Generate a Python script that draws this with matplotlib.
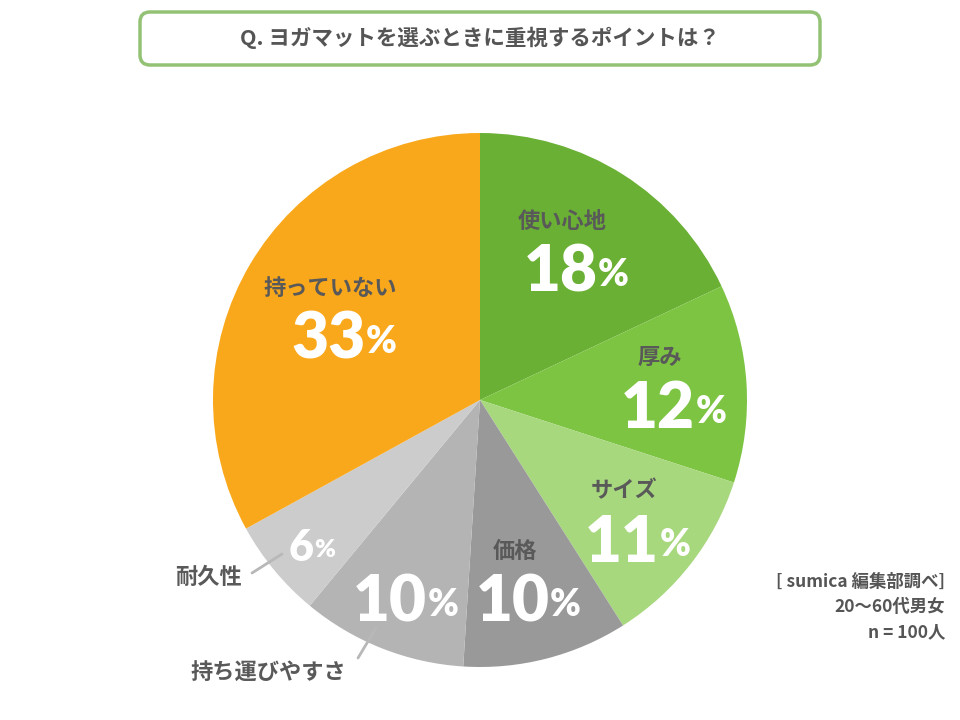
import numpy as np
import matplotlib
matplotlib.use('Agg')
import matplotlib.pyplot as plt
from matplotlib.patches import FancyBboxPatch

plt.rcParams['font.family'] = ['Noto Sans CJK JP', 'DejaVu Sans']

title = 'Q. ヨガマットを選ぶときに重視するポイントは？'
labels = ['使い心地', '厚み', 'サイズ', '価格', '持ち運びやすさ', '耐久性', '持っていない']
values = [18, 12, 11, 10, 10, 6, 33]
note_lines = ['[ sumica 編集部調べ]', '20〜60代男女', 'n = 100人']

colors = ['#6ab034', '#7dc443', '#a8d87e', '#999999', '#b4b4b4', '#cccccc', '#f9a81b']
# radial position of each label block (fraction of radius), and whether name sits outside
label_r = [0.66, 0.72, 0.74, 0.70, 0.77, 0.80, 0.60]
outside = [False, False, False, False, True, True, False]
num_size = [46, 46, 46, 46, 46, 31, 46]

fig = plt.figure(figsize=(9.6, 7.2), dpi=100)
ax = fig.add_axes([0, 0, 1, 1])
cx, cy, R = 480, 320, 267

wedges, _ = ax.pie(values, colors=colors, startangle=90, counterclock=False,
                   center=(cx, cy), radius=R,
                   wedgeprops=dict(linewidth=0))
ax.set_xlim(0, 960)
ax.set_ylim(0, 720)
ax.set_aspect('equal')
ax.axis('off')

total = sum(values)
cum = np.cumsum([0] + values)
for i, (lab, v) in enumerate(zip(labels, values)):
    mid = (cum[i] + v / 2) / total * 2 * np.pi
    x = cx + label_r[i] * R * np.sin(mid)
    y = cy + label_r[i] * R * np.cos(mid)
    if outside[i]:
        ny = y - 12
    else:
        ny = y - 22
        ax.text(x - 12, y + 30, lab, ha='center', va='center', fontsize=16,
                fontweight='bold', color='#595959')
    t = ax.text(x - 14, ny, str(v), ha='center', va='center', fontsize=num_size[i],
                fontweight='heavy', color='white', family=['Lato', 'DejaVu Sans'])
    ax.annotate('%', xy=(1, 0.18), xycoords=t, xytext=(0.5, 0), textcoords='offset points',
                ha='left', va='bottom', fontsize=num_size[i] * 0.58, fontweight='heavy',
                color='white', family=['Lato', 'DejaVu Sans'])

# leader lines for the outside names
ax.plot([282, 252], [166, 147], color='#b8b8b8', lw=2, solid_capstyle='round')
ax.text(242, 143, labels[5], ha='right', va='center', fontsize=16,
        fontweight='bold', color='#595959')
ax.plot([376, 358], [92, 62], color='#b8b8b8', lw=2, solid_capstyle='round')
ax.text(268, 47, labels[4], ha='center', va='center', fontsize=16,
        fontweight='bold', color='#595959')

# title box
box = FancyBboxPatch((140, 655), 680, 53, boxstyle='round,pad=0,rounding_size=10',
                     facecolor='white', edgecolor='#93c274', linewidth=2.5)
ax.add_patch(box)
ax.text(480, 682, title, ha='center', va='center', fontsize=15.5,
        fontweight='bold', color='#555555')

for k, line in enumerate(note_lines):
    ax.text(945, 138 - k * 25, line, ha='right', va='center', fontsize=12.5,
            fontweight='bold', color='#555555')

fig.savefig('out.png', dpi=100)
